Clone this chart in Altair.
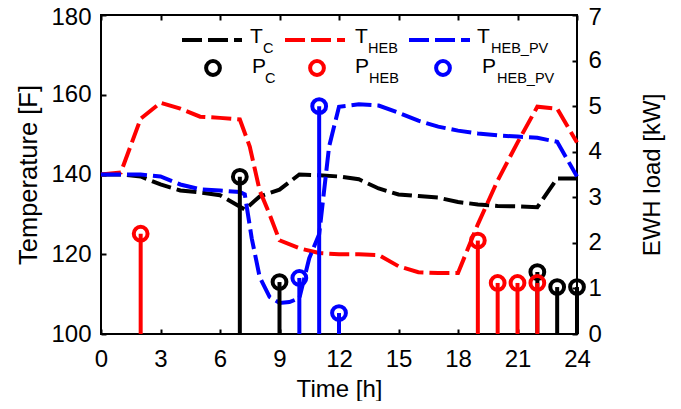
import altair as alt
import pandas as pd

# ---------------- data ----------------
# Tank temperatures, left axis [F]
tc_time = [0, 1, 2, 3, 4, 5, 6, 7.25, 8, 9, 10, 11, 12, 13, 14, 15, 16, 17, 18, 19, 20, 21, 22, 23, 24]
tc_temp = [140, 140, 139.5, 137.5, 136, 135.5, 134.8, 131.2, 134.5, 136.2, 140, 139.8, 139.5, 138.8,
           136.5, 135, 134.6, 134.2, 133.1, 132.5, 132.1, 132, 131.8, 139, 139]

theb_time = [0, 1, 2, 3, 4, 5, 6, 7, 7.5, 8, 8.5, 9, 10, 11, 12, 13, 14, 15, 16, 17, 18, 19, 20, 21, 22, 23, 24]
theb_temp = [140, 140.5, 154, 158, 156.5, 154.5, 154.2, 153.8, 147, 136, 130, 123.5, 121.5, 120.3, 120,
             120, 119.8, 117, 115.5, 115.3, 115.3, 127.5, 138.5, 148, 157, 156.5, 148]

thebpv_time = [0, 1, 2, 3, 4, 5, 6, 7, 7.25, 7.6, 8, 8.5, 9, 9.5, 10, 10.5, 11, 11.5, 12, 13, 14, 15,
               16, 17, 18, 19, 20, 21, 22, 23, 24]
thebpv_temp = [140, 140, 140, 139.5, 137.5, 136.3, 136, 135.6, 135, 124, 114.3, 109.3, 107.8, 108,
               109, 119, 125, 147, 157, 157.6, 157.3, 155.5, 153.5, 152, 151, 150.3, 149.8, 149.5,
               149.2, 148.2, 139.5]

# EWH loads, right axis [kW]
pc_time = [7, 9, 22, 23, 24]
pc_load = [3.45, 1.14, 1.36, 1.03, 1.03]
pheb_time = [2, 19, 20, 21, 22]
pheb_load = [2.2, 2.05, 1.12, 1.12, 1.12]
phebpv_time = [10, 11, 12]
phebpv_load = [1.23, 5.0, 0.46]

series_names = ["C", "HEB", "HEB_PV"]
series_colors = ["#000000", "#ff0000", "#0000ff"]
x_ticks = [0, 3, 6, 9, 12, 15, 18, 21, 24]
y_ticks = [100, 120, 140, 160, 180]
y2_ticks = [0, 1, 2, 3, 4, 5, 6, 7]

# ---------------- tables ----------------
lines_df = pd.concat([
    pd.DataFrame({"time": tc_time, "temp": tc_temp, "series": "C"}),
    pd.DataFrame({"time": theb_time, "temp": theb_temp, "series": "HEB"}),
    pd.DataFrame({"time": thebpv_time, "temp": thebpv_temp, "series": "HEB_PV"}),
], ignore_index=True)

stems_df = pd.concat([
    pd.DataFrame({"time": pc_time, "load": pc_load, "series": "C"}),
    pd.DataFrame({"time": pheb_time, "load": pheb_load, "series": "HEB"}),
    pd.DataFrame({"time": phebpv_time, "load": phebpv_load, "series": "HEB_PV"}),
], ignore_index=True)
stems_df["k"] = range(len(stems_df))

FONT = "Liberation Sans"
FS = 24
LW = 4
DASH = [20, 6]
MSIZE = 190
color_scale = alt.Scale(domain=series_names, range=series_colors)

x_scale = alt.Scale(domain=[0, 24], nice=False, zero=False)

common = dict(domain=False, offset=-5, tickSize=5, tickWidth=2, tickColor="black", grid=False)
text_style = dict(labelFontSize=FS, labelColor="black", titleColor="black",
                  labelFont=FONT, titleFont=FONT, titleFontWeight="normal", labelFlush=False)

x_bottom = alt.Axis(orient="bottom", values=x_ticks, title="Time [h]", labelPadding=13,
                    titlePadding=6, titleFontSize=FS, **common, **text_style)
x_top = alt.Axis(orient="top", values=x_ticks, title=None, labels=False, **common)
y_left = alt.Axis(orient="left", values=y_ticks, title="Temperature [F]", labelPadding=10,
                  titlePadding=9, titleFontSize=25.5,
                  labelOffset={"condition": {"test": "datum.value == 180", "value": 2}, "value": 0},
                  **common, **text_style)
y_right = alt.Axis(orient="right", values=y2_ticks, title="EWH load [kW]", labelPadding=11,
                   titleFontSize=FS, titleAngle=270, titleBaseline="middle", titleAlign="center",
                   titleX=80, titleY=159.5,
                   labelOffset={"condition": {"test": "datum.value == 7", "value": 2}, "value": 0},
                   **common, **text_style)

lines = alt.Chart(lines_df).mark_line(strokeWidth=LW, strokeDash=DASH).encode(
    x=alt.X("time:Q", scale=x_scale, axis=x_bottom),
    y=alt.Y("temp:Q", scale=alt.Scale(domain=[100, 180], nice=False, zero=False), axis=y_left),
    color=alt.Color("series:N", scale=color_scale, legend=None),
    order=alt.Order("time:Q"),
)

y2_scale = alt.Scale(domain=[0, 7], nice=False, zero=True)
stems = alt.Chart(stems_df).mark_rule(strokeWidth=LW).encode(
    x=alt.X("time:Q", scale=x_scale, axis=x_top),
    y=alt.Y("load:Q", scale=y2_scale, axis=y_right),
    y2=alt.datum(0),
    color=alt.Color("series:N", scale=color_scale, legend=None),
)
heads = alt.Chart(stems_df).mark_point(shape="circle", filled=False, size=MSIZE, strokeWidth=LW,
                                       opacity=1).encode(
    x=alt.X("time:Q", scale=x_scale, axis=x_top),
    y=alt.Y("load:Q", scale=y2_scale, axis=y_right),
    color=alt.Color("series:N", scale=color_scale, legend=None),
    order=alt.Order("k:Q"),
)
right_side = alt.layer(stems, heads)

# ---------------- hand-built legend (for subscripts) ----------------
one = pd.DataFrame({"a": [0]})
legend_layers = []
# (line x0, x1, T x, sub x) ; (circle x, P x, sub x)
row1 = [(81, 141, 149, 162), (184, 244, 254, 267), (308, 369, 376, 390)]
row2 = [(112, 151, 164), (216, 254, 268), (342, 381, 396)]
for (x0, x1, tx, sx), (cx, px, psx), name, col in zip(row1, row2, series_names, series_colors):
    legend_layers.append(
        alt.Chart(one).mark_rule(strokeWidth=LW, strokeDash=DASH, color=col).encode(
            x=alt.value(x0), x2=alt.value(x1), y=alt.value(25)))
    legend_layers.append(
        alt.Chart(one).mark_text(align="left", baseline="alphabetic", fontSize=21, font=FONT,
                                 color="black").encode(
            x=alt.value(tx), y=alt.value(28), text=alt.value("T")))
    legend_layers.append(
        alt.Chart(one).mark_text(align="left", baseline="alphabetic", fontSize=14.5, font=FONT,
                                 color="black").encode(
            x=alt.value(sx), y=alt.value(38), text=alt.value(name)))
    legend_layers.append(
        alt.Chart(one).mark_point(shape="circle", filled=False, size=MSIZE, strokeWidth=LW,
                                  color=col, opacity=1).encode(
            x=alt.value(cx), y=alt.value(53)))
    legend_layers.append(
        alt.Chart(one).mark_text(align="left", baseline="alphabetic", fontSize=21, font=FONT,
                                 color="black").encode(
            x=alt.value(px), y=alt.value(58), text=alt.value("P")))
    legend_layers.append(
        alt.Chart(one).mark_text(align="left", baseline="alphabetic", fontSize=14.5, font=FONT,
                                 color="black").encode(
            x=alt.value(psx), y=alt.value(68), text=alt.value(name)))

chart = alt.layer(lines, right_side, *legend_layers).resolve_scale(
    y="independent"
).resolve_axis(
    x="independent"
).properties(
    width=476, height=319,
    autosize=alt.AutoSizeParams(type="none"),
    padding={"left": 93, "top": 7, "right": 96, "bottom": 67},
    background="white",
).configure_view(
    stroke="black", strokeWidth=2
)

chart.save("out.html", embed_options={"renderer": "svg", "actions": False})
